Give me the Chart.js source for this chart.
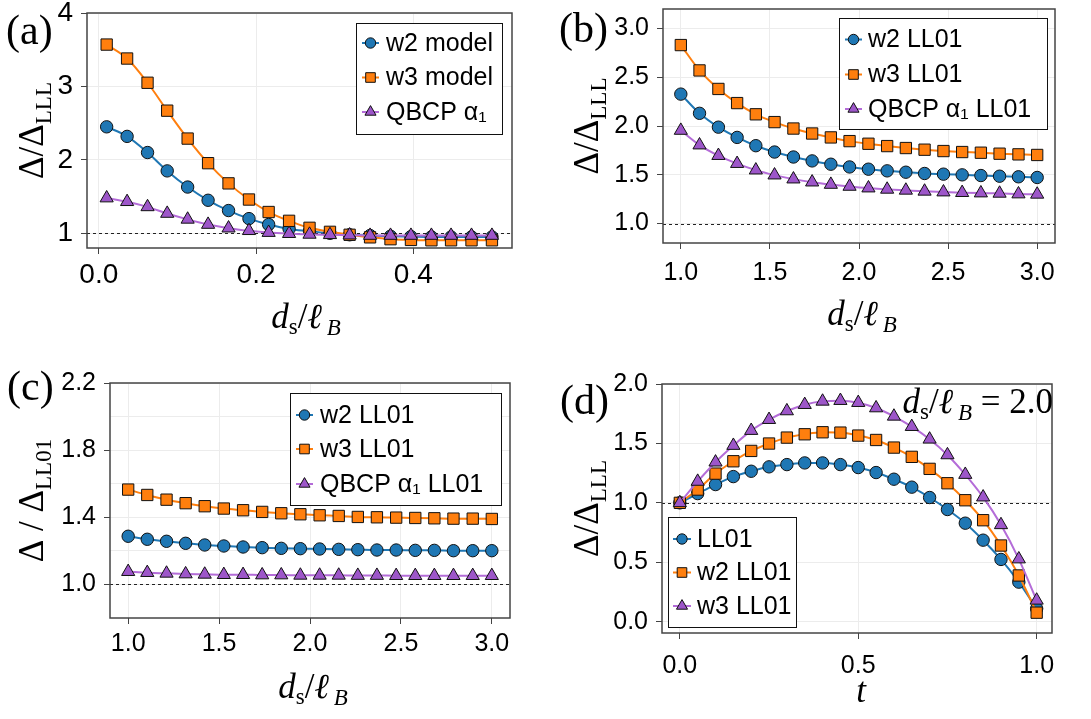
<!DOCTYPE html>
<html><head><meta charset="utf-8">
<script src="https://cdn.jsdelivr.net/npm/chart.js@4.4.1/dist/chart.umd.min.js"></script>
<style>
html,body{margin:0;padding:0;background:#fff;}
body{width:1091px;height:719px;position:relative;overflow:hidden;}
canvas{position:absolute;}
</style>
</head><body>
<canvas id="ca" width="540" height="340" style="left:0;top:0"></canvas>
<canvas id="cb" width="551" height="340" style="left:540px;top:0"></canvas>
<canvas id="cc" width="540" height="379" style="left:0;top:340px"></canvas>
<canvas id="cd" width="551" height="379" style="left:540px;top:340px"></canvas>
<script>
// ---------------- data ----------------
const X_A = [0.010,0.036,0.062,0.087,0.113,0.139,0.165,0.191,0.216,0.242,0.268,0.294,0.319,0.345,0.371,0.397,0.423,0.448,0.474,0.500];
const W2_A = [2.45,2.32,2.10,1.85,1.63,1.45,1.31,1.20,1.12,1.06,1.03,1.00,0.98,0.97,0.96,0.955,0.95,0.95,0.95,0.95];
const W3_A = [3.57,3.38,3.05,2.67,2.29,1.955,1.68,1.46,1.29,1.17,1.075,1.02,0.98,0.945,0.92,0.91,0.905,0.905,0.905,0.905];
const Q_A  = [1.48,1.43,1.36,1.27,1.19,1.12,1.07,1.035,1.01,0.995,0.985,0.98,0.975,0.97,0.97,0.97,0.97,0.97,0.97,0.97];

const X_B = [1.000,1.105,1.211,1.316,1.421,1.526,1.632,1.737,1.842,1.947,2.053,2.158,2.263,2.368,2.474,2.579,2.684,2.789,2.895,3.000];
const W2_B = [2.327,2.13,1.988,1.883,1.798,1.733,1.682,1.642,1.608,1.58,1.557,1.54,1.526,1.513,1.506,1.499,1.492,1.485,1.479,1.472];
const W3_B = [2.83,2.57,2.38,2.235,2.12,2.04,1.974,1.923,1.883,1.845,1.818,1.794,1.774,1.757,1.743,1.733,1.726,1.716,1.709,1.703];
const Q_B  = [1.954,1.804,1.696,1.614,1.547,1.496,1.455,1.424,1.40,1.38,1.363,1.35,1.34,1.33,1.322,1.316,1.312,1.309,1.302,1.299];

const X_C = [1.000,1.105,1.211,1.316,1.421,1.526,1.632,1.737,1.842,1.947,2.053,2.158,2.263,2.368,2.474,2.579,2.684,2.789,2.895,3.000];
const W2_C = [1.287,1.269,1.257,1.245,1.235,1.229,1.223,1.219,1.215,1.213,1.211,1.209,1.207,1.205,1.205,1.203,1.203,1.201,1.201,1.201];
const W3_C = [1.565,1.533,1.505,1.484,1.466,1.452,1.442,1.432,1.424,1.418,1.412,1.408,1.402,1.40,1.398,1.396,1.394,1.392,1.392,1.39];
const Q_C  = [1.076,1.07,1.066,1.062,1.06,1.058,1.058,1.056,1.056,1.054,1.054,1.054,1.053,1.053,1.052,1.052,1.052,1.052,1.052,1.052];

const T_D = [0.00,0.05,0.10,0.15,0.20,0.25,0.30,0.35,0.40,0.45,0.50,0.55,0.60,0.65,0.70,0.75,0.80,0.85,0.90,0.95,1.00];
const LL01_D = [1.0,1.078,1.154,1.221,1.266,1.303,1.322,1.336,1.336,1.322,1.297,1.255,1.199,1.132,1.045,0.944,0.829,0.686,0.524,0.333,0.11];
const W2_D = [1.0,1.112,1.246,1.35,1.437,1.499,1.549,1.577,1.594,1.591,1.566,1.529,1.465,1.387,1.286,1.165,1.022,0.854,0.641,0.389,0.076];
const W3_D = [1.0,1.18,1.342,1.482,1.608,1.70,1.773,1.826,1.854,1.86,1.843,1.798,1.728,1.641,1.535,1.403,1.238,1.048,0.815,0.527,0.18];

const LABELS_A = ['w2 model','w3 model','QBCP \u03b1\u2081'];
const LABELS_B = ['w2 LL01','w3 LL01','QBCP \u03b1\u2081 LL01'];
const LABELS_C = ['w2 LL01','w3 LL01','QBCP \u03b1\u2081 LL01'];
const LABELS_D = ['LL01','w2 LL01','w3 LL01'];

const REF_Y = 1.0;

const XT_A = [0,0.2,0.4], XL_A = ['0.0','0.2','0.4'];
const YT_A = [1,2,3,4],  YL_A = ['1','2','3','4'];
const XT_B = [1,1.5,2,2.5,3], XL_B = ['1.0','1.5','2.0','2.5','3.0'];
const YT_B = [1,1.5,2,2.5,3], YL_B = ['1.0','1.5','2.0','2.5','3.0'];
const XT_C = [1,1.5,2,2.5,3], XL_C = ['1.0','1.5','2.0','2.5','3.0'];
const YT_C = [1.0,1.2,1.4,1.6,1.8,2.0,2.2], YL_C = ['1.0','','1.4','','1.8','','2.2'];
const XT_D = [0,0.5,1], XL_D = ['0.0','0.5','1.0'];
const YT_D = [0,0.5,1,1.5,2], YL_D = ['0.0','0.5','1.0','1.5','2.0'];

// ---------------- style ----------------
const SANS = '"Liberation Sans", Arial, Helvetica, sans-serif';
const SERIF = '"Liberation Serif", "DejaVu Serif", "Times New Roman", serif';
const BLUE = '#1f77b4', ORANGE = '#ff7f0e', PURPLE = '#9d56c9', PURPLE_LINE = '#b46cd8';
const STYLES = {
  circle: {pointStyle:'circle', r:6.2, lr:5.2},
  rect: {pointStyle:'rect', r:8.0, lr:6.8},
  triangle: {pointStyle:'triangle', r:7.6, lr:6.4}
};

function ds(label, xs, ys, color, lineColor, shape, order){
  const st = STYLES[shape];
  return {
    label, data: xs.map((x,i)=>({x, y: ys[i]})),
    borderColor: lineColor, backgroundColor: color,
    pointBackgroundColor: color, pointBorderColor: '#111', pointBorderWidth: 1,
    pointStyle: st.pointStyle, pointRadius: st.r, pointHoverRadius: st.r,
    borderWidth: 2, cubicInterpolationMode: 'monotone', clip: false, order,
    _shape: shape
  };
}

function axis(min, max, ticks, labels, size, pad, fit, isY){
  return {
    type:'linear', min, max,
    afterBuildTicks: s => { s.ticks = ticks.map(v => ({value:v})); },
    afterFit: s => {
      if (isY) { s.width = fit; s.paddingTop = 0; s.paddingBottom = 0; }
      else { s.height = fit; s.paddingLeft = 0; s.paddingRight = 0; }
    },
    ticks: { autoSkip:false, maxRotation:0, minRotation:0, padding:pad, color:'#000',
      font:{family:SANS, size, lineHeight:1}, callback:(v,i)=>labels[i] },
    grid: { color:'#ececec', lineWidth:1, drawTicks:true, tickLength:6,
      tickColor: c => (labels[c.index] ? '#444' : 'rgba(0,0,0,0)') },
    border: { display:false }
  };
}

function mathText(ctx, parts, x, y, align){
  let w = 0;
  parts.forEach(p => { ctx.font = p[1]; w += ctx.measureText(p[0]).width; });
  let cx = align === 'center' ? x - w/2 : (align === 'right' ? x - w : x);
  ctx.textAlign = 'left'; ctx.textBaseline = 'alphabetic';
  parts.forEach(p => { ctx.font = p[1]; ctx.fillText(p[0], cx, y + (p[2]||0)); cx += ctx.measureText(p[0]).width; });
}

const MAIN = '35px ' + SERIF, MAIN_I = 'italic 35px ' + SERIF, SUB = '23px ' + SERIF, SUB_I = 'italic 23px ' + SERIF;
const XTITLE = [['d', MAIN_I], ['s', SUB, 6], ['/', MAIN], ['\u2113', MAIN_I], ['\u2009B', SUB_I, 7]];
function yTitle(sub, spaced){
  return spaced ? [['\u0394 / \u0394', MAIN], [sub, SUB, 8]] : [['\u0394/\u0394', MAIN], [sub, SUB, 8]];
}

function panelPlugin(cfg){
  return {
    id: 'panel_' + cfg.tag,
    beforeDatasetsDraw(chart){
      const {ctx, chartArea:a, scales:{y}} = chart;
      const yy = Math.round(y.getPixelForValue(REF_Y)) + 0.5;
      ctx.save(); ctx.strokeStyle = '#222'; ctx.lineWidth = 1; ctx.setLineDash([3,3]);
      ctx.beginPath(); ctx.moveTo(a.left, yy); ctx.lineTo(a.right, yy); ctx.stroke(); ctx.restore();
    },
    afterDraw(chart){
      const {ctx, chartArea:a} = chart;
      ctx.save();
      // frame
      ctx.strokeStyle = '#444'; ctx.lineWidth = 1.5;
      ctx.strokeRect(a.left, a.top, a.right - a.left, a.bottom - a.top);
      // legend
      const L = cfg.legend;
      ctx.fillStyle = '#fff'; ctx.fillRect(L.x, L.y, L.w, L.h);
      ctx.strokeStyle = '#111'; ctx.lineWidth = 1;
      ctx.strokeRect(L.x + 0.5, L.y + 0.5, L.w, L.h);
      chart.data.datasets.forEach((d, i) => {
        const yy = L.rows[i];
        ctx.strokeStyle = d.borderColor; ctx.lineWidth = 2;
        ctx.beginPath(); ctx.moveTo(L.x0, yy); ctx.lineTo(L.x1, yy); ctx.stroke();
        const st = STYLES[d._shape];
        ctx.fillStyle = d.pointBackgroundColor; ctx.strokeStyle = '#111'; ctx.lineWidth = 1;
        Chart.helpers.drawPoint(ctx, {pointStyle: st.pointStyle, radius: st.lr, rotation: 0, borderWidth: 1}, (L.x0 + L.x1)/2, yy);
        ctx.fillStyle = '#000'; ctx.font = '25px ' + SANS; ctx.textAlign = 'left'; ctx.textBaseline = 'middle';
        ctx.fillText(d.label, L.tx, yy + 1);
      });
      ctx.fillStyle = '#000';
      // panel label
      ctx.font = '42px ' + SERIF; ctx.textAlign = 'left'; ctx.textBaseline = 'alphabetic';
      ctx.fillText(cfg.tag, cfg.tagX, cfg.tagY);
      // x title
      mathText(ctx, cfg.xTitle, cfg.xtX, cfg.xtY, 'center');
      // y title
      ctx.save(); ctx.translate(cfg.ytX, (a.top + a.bottom)/2); ctx.rotate(-Math.PI/2);
      mathText(ctx, cfg.yTitle, 0, 0, 'center'); ctx.restore();
      if (cfg.note) mathText(ctx, cfg.note, cfg.noteX, cfg.noteY, 'right');
      ctx.restore();
    }
  };
}

function make(id, datasets, xs, ys, pad, cfg){
  new Chart(document.getElementById(id), {
    type: 'line',
    data: { datasets },
    options: {
      responsive:false, animation:false, devicePixelRatio:1,
      layout: { padding: pad },
      plugins: { legend:{display:false}, tooltip:{enabled:false} },
      scales: { x: xs, y: ys }
    },
    plugins: [panelPlugin(cfg)]
  });
}

// (a)
make('ca', [
  ds(LABELS_A[0], X_A, W2_A, BLUE, BLUE, 'circle', 2),
  ds(LABELS_A[1], X_A, W3_A, ORANGE, ORANGE, 'rect', 1),
  ds(LABELS_A[2], X_A, Q_A, PURPLE, PURPLE_LINE, 'triangle', 0)
], axis(-0.015, 0.5255, XT_A, XL_A, 28, 7, 92, false),
   axis(0.8, 4, YT_A, YL_A, 28, 8, 87, true),
   {top:13, right:28, left:0, bottom:0},
   {tag:'(a)', tagX:6, tagY:44,
    legend:{x:356, y:23, w:146, h:111, rows:[43,77.5,112], x0:362, x1:379, tx:386},
    xTitle: XTITLE, xtX:306, xtY:328, yTitle: yTitle('LLL', false), ytX:43});

// (b)
make('cb', [
  ds(LABELS_B[0], X_B, W2_B, BLUE, BLUE, 'circle', 2),
  ds(LABELS_B[1], X_B, W3_B, ORANGE, ORANGE, 'rect', 1),
  ds(LABELS_B[2], X_B, Q_B, PURPLE, PURPLE_LINE, 'triangle', 0)
], axis(0.9, 3.1, XT_B, XL_B, 25, 12, 97, false),
   axis(0.8, 3.2, YT_B, YL_B, 25, 8, 123, true),
   {top:7, right:36, left:0, bottom:0},
   {tag:'(b)', tagX:19, tagY:42,
    legend:{x:299, y:18, w:208, h:111, rows:[39.5,74.5,109], x0:305, x1:322, tx:328},
    xTitle: XTITLE, xtX:322, xtY:325, yTitle: yTitle('LLL', false), ytX:58});

// (c)
make('cc', [
  ds(LABELS_C[0], X_C, W2_C, BLUE, BLUE, 'circle', 2),
  ds(LABELS_C[1], X_C, W3_C, ORANGE, ORANGE, 'rect', 1),
  ds(LABELS_C[2], X_C, Q_C, PURPLE, PURPLE_LINE, 'triangle', 0)
], axis(0.9, 3.1, XT_C, XL_C, 25, 8, 101, false),
   axis(0.8, 2.2, YT_C, YL_C, 25, 8, 110, true),
   {top:43, right:30, left:0, bottom:0},
   {tag:'(c)', tagX:7, tagY:60,
    legend:{x:290, y:53, w:211, h:112, rows:[75,109,144], x0:296, x1:313, tx:320},
    xTitle: XTITLE, xtX:313, xtY:358, yTitle: yTitle('LL01', true), ytX:43});

// (d)
make('cd', [
  ds(LABELS_D[0], T_D, LL01_D, BLUE, BLUE, 'circle', 2),
  ds(LABELS_D[1], T_D, W2_D, ORANGE, ORANGE, 'rect', 1),
  ds(LABELS_D[2], T_D, W3_D, PURPLE, PURPLE_LINE, 'triangle', 0)
], axis(-0.05, 1.043, XT_D, XL_D, 25, 15, 86, false),
   axis(-0.095, 2.0, YT_D, YL_D, 25, 8, 122, true),
   {top:44, right:39, left:0, bottom:0},
   {tag:'(d)', tagX:20, tagY:74,
    legend:{x:128, y:177, w:128, h:110, rows:[199,232.5,266], x0:133, x1:151, tx:157},
    xTitle: [['t', MAIN_I]], xtX:321, xtY:362,
    yTitle: yTitle('LLL', false), ytX:58,
    note: [['d', MAIN_I], ['s', SUB, 6], ['/', MAIN], ['\u2113', MAIN_I], ['\u2009B', SUB_I, 7], [' = 2.0', MAIN]],
    noteX:513, noteY:73});
</script>
</body></html>
